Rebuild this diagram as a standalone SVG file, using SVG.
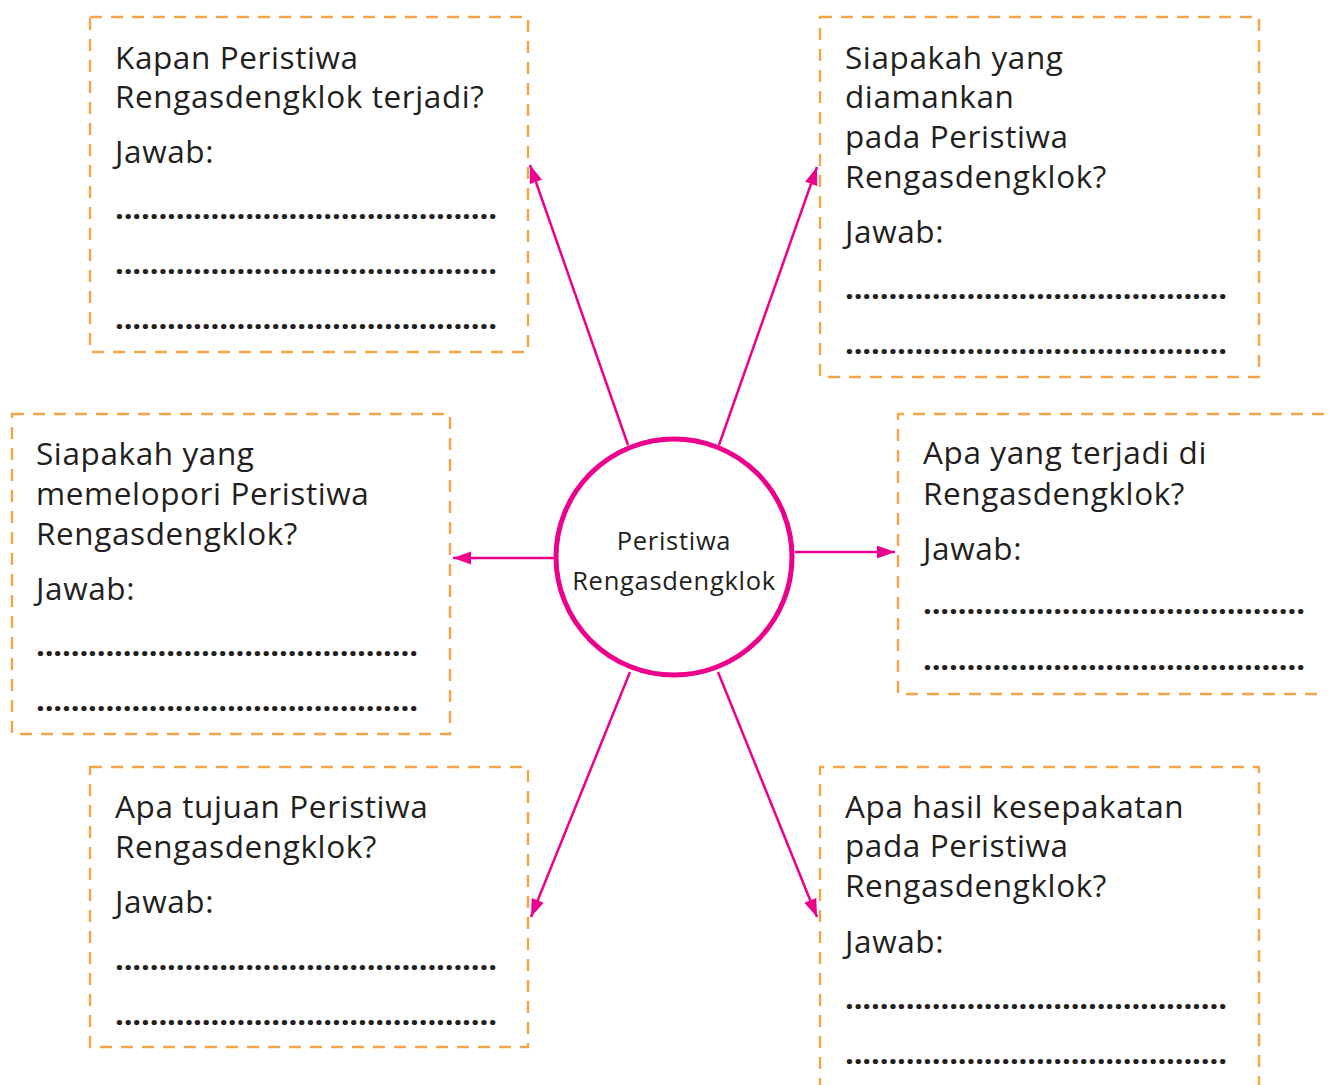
<svg xmlns="http://www.w3.org/2000/svg" width="1329" height="1085" viewBox="0 0 1329 1085">
<style>
.box{fill:none;stroke:#F6A44A;stroke-width:2.4;stroke-dasharray:12 9}
.t{font-family:"Open Sans","Noto Sans","Liberation Sans",sans-serif;font-size:31.5px;letter-spacing:0.6px;fill:#231F20}
.d{font-family:"Open Sans","Noto Sans","Liberation Sans",sans-serif;font-size:31px;fill:#231F20;font-weight:bold}
.c{font-family:"Open Sans","Noto Sans","Liberation Sans",sans-serif;font-size:25.5px;letter-spacing:0.7px;fill:#231F20}
.ln{stroke:#EC008C;stroke-width:2.5;fill:none;marker-end:url(#ah)}
</style>
<defs>
<marker id="ah" markerUnits="userSpaceOnUse" markerWidth="20" markerHeight="14" refX="18" refY="6.5" orient="auto">
<path d="M0,0 L18,6.5 L0,13 z" fill="#EC008C"/>
</marker>
</defs>
<rect width="1329" height="1085" fill="#fff"/>
<g id="connectors">
<line class="ln" x1="628" y1="445" x2="530" y2="165"/>
<line class="ln" x1="719" y1="445" x2="817" y2="167"/>
<line class="ln" x1="554" y1="558" x2="453" y2="558"/>
<line class="ln" x1="795" y1="552" x2="895" y2="552"/>
<line class="ln" x1="630" y1="672" x2="531" y2="917"/>
<line class="ln" x1="718" y1="672" x2="817" y2="917"/>
</g>
<g id="center">
<circle cx="674" cy="557" r="118" fill="#fff" stroke="#EC008C" stroke-width="5"/>
<text class="c" x="674" y="550" text-anchor="middle">Peristiwa</text>
<text class="c" x="674" y="590" text-anchor="middle">Rengasdengklok</text>
</g>
<g id="q1">
<rect class="box" x="90" y="17" width="438" height="335"/>
<text class="t" x="115" y="69">Kapan Peristiwa</text>
<text class="t" x="115" y="108">Rengasdengklok terjadi?</text>
<text class="t" x="115" y="163">Jawab:</text>
<text class="d" x="115" y="219" textLength="382" lengthAdjust="spacing">............................................</text>
<text class="d" x="115" y="274" textLength="382" lengthAdjust="spacing">............................................</text>
<text class="d" x="115" y="329" textLength="382" lengthAdjust="spacing">............................................</text>
</g>
<g id="q2">
<rect class="box" x="820" y="17" width="439" height="360"/>
<text class="t" x="845" y="69">Siapakah yang</text>
<text class="t" x="845" y="108">diamankan</text>
<text class="t" x="845" y="148">pada Peristiwa</text>
<text class="t" x="845" y="188">Rengasdengklok?</text>
<text class="t" x="845" y="243">Jawab:</text>
<text class="d" x="845" y="299" textLength="382" lengthAdjust="spacing">............................................</text>
<text class="d" x="845" y="354" textLength="382" lengthAdjust="spacing">............................................</text>
</g>
<g id="q3">
<rect class="box" x="12" y="414" width="438" height="320"/>
<text class="t" x="36" y="465">Siapakah yang</text>
<text class="t" x="36" y="505">memelopori Peristiwa</text>
<text class="t" x="36" y="545">Rengasdengklok?</text>
<text class="t" x="36" y="600">Jawab:</text>
<text class="d" x="36" y="656" textLength="382" lengthAdjust="spacing">............................................</text>
<text class="d" x="36" y="711" textLength="382" lengthAdjust="spacing">............................................</text>
</g>
<g id="q4">
<path class="box" d="M1324,414 H898 V694 H1324"/>
<text class="t" x="923" y="464">Apa yang terjadi di</text>
<text class="t" x="923" y="505">Rengasdengklok?</text>
<text class="t" x="923" y="560">Jawab:</text>
<text class="d" x="923" y="614" textLength="382" lengthAdjust="spacing">............................................</text>
<text class="d" x="923" y="670" textLength="382" lengthAdjust="spacing">............................................</text>
</g>
<g id="q5">
<rect class="box" x="90" y="767" width="438" height="280"/>
<text class="t" x="115" y="818">Apa tujuan Peristiwa</text>
<text class="t" x="115" y="858">Rengasdengklok?</text>
<text class="t" x="115" y="913">Jawab:</text>
<text class="d" x="115" y="970" textLength="382" lengthAdjust="spacing">............................................</text>
<text class="d" x="115" y="1025" textLength="382" lengthAdjust="spacing">............................................</text>
</g>
<g id="q6">
<path class="box" d="M820,1090 V767 H1259 V1090"/>
<text class="t" x="845" y="818">Apa hasil kesepakatan</text>
<text class="t" x="845" y="857">pada Peristiwa</text>
<text class="t" x="845" y="897">Rengasdengklok?</text>
<text class="t" x="845" y="953">Jawab:</text>
<text class="d" x="845" y="1009" textLength="382" lengthAdjust="spacing">............................................</text>
<text class="d" x="845" y="1064" textLength="382" lengthAdjust="spacing">............................................</text>
</g>
</svg>
